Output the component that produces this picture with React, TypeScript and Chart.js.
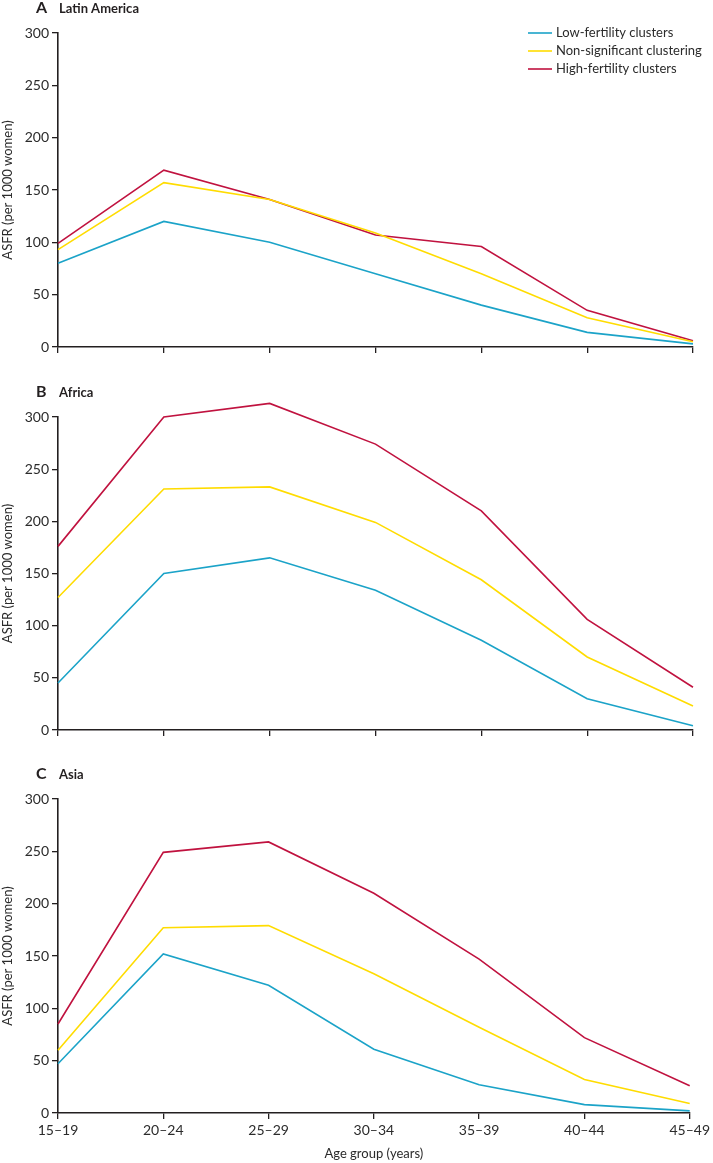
import React, { useEffect, useRef } from 'react';
import { Chart, registerables } from 'chart.js';

Chart.register(...registerables);

// ---------- data ----------
const ageGroups = ['15–19', '20–24', '25–29', '30–34', '35–39', '40–44', '45–49'];
const seriesNames = ['Low-fertility clusters', 'Non-significant clustering', 'High-fertility clusters'];
const seriesColors = ['#1ba3c8', '#ffdc00', '#c0123f'];
const yTickValues = [0, 50, 100, 150, 200, 250, 300];

const latinLow = [80, 120, 100, 70, 40, 14, 3];
const latinMid = [93, 157, 141, 109, 70, 28, 5];
const latinHigh = [99, 169, 141, 107, 96, 35, 6];

const africaLow = [45, 150, 165, 134, 86, 30, 4];
const africaMid = [127, 231, 233, 199, 144, 70, 23];
const africaHigh = [176, 300, 313, 274, 210, 106, 41];

const asiaLow = [47, 152, 122, 61, 27, 8, 2];
const asiaMid = [60, 177, 179, 133, 82, 32, 9];
const asiaHigh = [85, 249, 259, 210, 147, 72, 26];

const panelLetters = ['A', 'B', 'C'];
const panelNames = ['Latin America', 'Africa', 'Asia'];

const FONT = 'Lato, "Noto Sans", "DejaVu Sans", sans-serif';
const AXIS = '#231f20';
const TEXT = '#2b2b2b';

type PanelProps = {
  top: number;
  height: number;
  plotTop: number;
  xHeight: number;
  letter: string;
  name: string;
  series: number[][];
  showXLabels: boolean;
  showLegend: boolean;
};

function Panel(props: PanelProps) {
  const ref = useRef<HTMLCanvasElement | null>(null);
  useEffect(() => {
    if (!ref.current) return;
    const { letter, name, series, showXLabels, showLegend, plotTop, xHeight } = props;

    const titlePlugin = {
      id: 'panelTitle',
      afterDraw(chart: any) {
        const ctx = chart.ctx;
        const y = chart.chartArea.top - 20;
        ctx.save();
        ctx.fillStyle = AXIS;
        ctx.textBaseline = 'alphabetic';
        ctx.textAlign = 'left';
        ctx.font = `bold 16px ${FONT}`;
        ctx.fillText(letter, 36, y);
        ctx.font = `bold 13px ${FONT}`;
        ctx.fillText(name, 59, y);
        ctx.restore();
      },
    };

    const legendPlugin = {
      id: 'customLegend',
      afterDraw(chart: any) {
        if (!showLegend) return;
        const ctx = chart.ctx;
        ctx.save();
        chart.data.datasets.forEach((ds: any, i: number) => {
          const y = 33 + i * 18;
          ctx.strokeStyle = ds.borderColor;
          ctx.lineWidth = 1.6;
          ctx.beginPath();
          ctx.moveTo(528, y);
          ctx.lineTo(552, y);
          ctx.stroke();
          ctx.fillStyle = TEXT;
          ctx.font = `13px ${FONT}`;
          ctx.textBaseline = 'middle';
          ctx.textAlign = 'left';
          ctx.fillText(ds.label, 556, y);
        });
        ctx.restore();
      },
    };

    const chart = new Chart(ref.current, {
      type: 'line',
      data: {
        labels: ageGroups,
        datasets: series.map((vals, i) => ({
          label: seriesNames[i],
          data: vals,
          borderColor: seriesColors[i],
          backgroundColor: seriesColors[i],
          borderWidth: 1.6,
          pointRadius: 0,
          tension: 0,
          fill: false,
          clip: false,
        })),
      },
      options: {
        responsive: false,
        maintainAspectRatio: false,
        animation: false,
        layout: { padding: { top: plotTop, right: 20, left: 0, bottom: 0 } },
        plugins: {
          legend: { display: false },
          tooltip: { enabled: false },
          title: { display: false },
        },
        scales: {
          x: {
            type: 'category',
            offset: false,
            afterFit(scale: any) {
              scale.height = xHeight;
            },
            grid: {
              display: true,
              drawOnChartArea: false,
              drawTicks: true,
              tickLength: 6,
              color: AXIS,
              lineWidth: 1.3,
            },
            border: { display: true, color: AXIS, width: 1.6 },
            ticks: {
              display: showXLabels,
              color: TEXT,
              font: { family: FONT, size: 14 },
              padding: 3,
              maxRotation: 0,
              autoSkip: false,
            },
            title: {
              display: showXLabels,
              text: 'Age group (years)',
              color: TEXT,
              font: { family: FONT, size: 13 },
              padding: { top: 0, bottom: 1 },
            },
          },
          y: {
            type: 'linear',
            min: 0,
            max: 300,
            afterFit(scale: any) {
              scale.width = 58;
            },
            afterBuildTicks(scale: any) {
              scale.ticks = yTickValues.map((v) => ({ value: v }));
            },
            grid: {
              display: true,
              drawOnChartArea: false,
              drawTicks: true,
              tickLength: 6,
              color: AXIS,
              lineWidth: 1.3,
            },
            border: { display: true, color: AXIS, width: 1.6 },
            ticks: {
              color: TEXT,
              font: { family: FONT, size: 14 },
              padding: 3,
            },
            title: {
              display: true,
              text: 'ASFR (per 1000 women)',
              color: TEXT,
              font: { family: FONT, size: 13 },
              padding: { top: 0, bottom: 0 },
            },
          },
        },
      },
      plugins: [titlePlugin, legendPlugin],
    } as any);
    return () => chart.destroy();
  }, []);

  return (
    <canvas
      ref={ref}
      width={713}
      height={props.height}
      style={{ position: 'absolute', left: 0, top: props.top, width: 713, height: props.height, display: 'block' }}
    />
  );
}

export default function App() {
  return (
    <div style={{ position: 'absolute', left: 0, top: 0, width: 713, height: 1163, background: '#ffffff', overflow: 'hidden' }}>
      <Panel top={0} height={365} plotTop={33} xHeight={18} letter={panelLetters[0]} name={panelNames[0]}
        series={[latinLow, latinMid, latinHigh]} showXLabels={false} showLegend={true} />
      <Panel top={365} height={383} plotTop={52} xHeight={18} letter={panelLetters[1]} name={panelNames[1]}
        series={[africaLow, africaMid, africaHigh]} showXLabels={false} showLegend={false} />
      <Panel top={748} height={415} plotTop={51} xHeight={50} letter={panelLetters[2]} name={panelNames[2]}
        series={[asiaLow, asiaMid, asiaHigh]} showXLabels={true} showLegend={false} />
    </div>
  );
}
